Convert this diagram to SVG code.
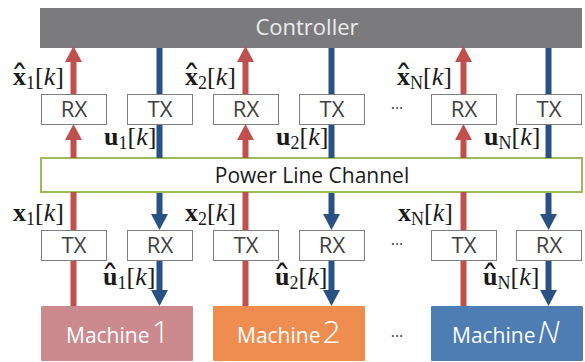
<svg xmlns="http://www.w3.org/2000/svg" width="585" height="362" viewBox="0 0 585 362">
<style>
.box{fill:#fff;stroke:#7f7f7f;stroke-width:1}
.bt{font-family:"Open Sans",sans-serif;font-size:22px;fill:#404040;text-anchor:middle}
.red{stroke:#c0504d;stroke-width:6;fill:none}
.blue{stroke:#2a5183;stroke-width:6;fill:none}
.m{font-family:"Liberation Serif",serif;font-size:26px;fill:#1a1a1a}
.b{font-weight:bold}
.s{font-size:18px}
.i{font-style:italic}
.hat{font-family:"DejaVu Serif",serif;font-size:36px;font-weight:normal}
.mt{font-family:"Open Sans",sans-serif;font-size:21px;fill:#fff}
.dg{font-size:32px;font-weight:300}
.dots{font-family:"Open Sans",sans-serif;font-size:16px;fill:#404040;text-anchor:middle}
</style>
<defs>
<marker id="ar" markerUnits="userSpaceOnUse" markerWidth="16" markerHeight="18" refX="1" refY="8" orient="auto" viewBox="0 0 15 16">
<path d="M0,0 L15,8 L0,16 z" fill="#c0504d"/>
</marker>
<marker id="ab" markerUnits="userSpaceOnUse" markerWidth="16" markerHeight="18" refX="1" refY="8" orient="auto" viewBox="0 0 15 16">
<path d="M0,0 L15,8 L0,16 z" fill="#2a5183"/>
</marker>
</defs>

<g id="controller">
<rect x="40" y="8" width="542" height="40" fill="#7b7b7d"/>
<text x="307" y="35" text-anchor="middle" font-family="Open Sans, sans-serif" font-size="22" fill="#ececec">Controller</text>
</g>

<g id="channel">
<rect x="41" y="158" width="541" height="34" fill="#fff" stroke="#9bbb59" stroke-width="2"/>
<text x="312" y="183" text-anchor="middle" font-family="Open Sans, sans-serif" font-size="21" fill="#1a1a1a">Power Line Channel</text>
</g>

<g id="connectors">
<line class="red" x1="73.5" y1="158" x2="73.5" y2="139" marker-end="url(#ar)"/>
<line class="red" x1="73.5" y1="94" x2="73.5" y2="61" marker-end="url(#ar)"/>
<line class="red" x1="73.5" y1="306" x2="73.5" y2="260"/>
<line class="red" x1="73.5" y1="230" x2="73.5" y2="192"/>
<line class="red" x1="245.5" y1="158" x2="245.5" y2="139" marker-end="url(#ar)"/>
<line class="red" x1="245.5" y1="94" x2="245.5" y2="61" marker-end="url(#ar)"/>
<line class="red" x1="245.5" y1="306" x2="245.5" y2="260"/>
<line class="red" x1="245.5" y1="230" x2="245.5" y2="192"/>
<line class="red" x1="463.5" y1="158" x2="463.5" y2="139" marker-end="url(#ar)"/>
<line class="red" x1="463.5" y1="94" x2="463.5" y2="61" marker-end="url(#ar)"/>
<line class="red" x1="463.5" y1="306" x2="463.5" y2="260"/>
<line class="red" x1="463.5" y1="230" x2="463.5" y2="192"/>
<line class="blue" x1="159.5" y1="48" x2="159.5" y2="94"/>
<line class="blue" x1="159.5" y1="125" x2="159.5" y2="158"/>
<line class="blue" x1="159.5" y1="193" x2="159.5" y2="215" marker-end="url(#ab)"/>
<line class="blue" x1="159.5" y1="260" x2="159.5" y2="291" marker-end="url(#ab)"/>
<line class="blue" x1="331.5" y1="48" x2="331.5" y2="94"/>
<line class="blue" x1="331.5" y1="125" x2="331.5" y2="158"/>
<line class="blue" x1="331.5" y1="193" x2="331.5" y2="215" marker-end="url(#ab)"/>
<line class="blue" x1="331.5" y1="260" x2="331.5" y2="291" marker-end="url(#ab)"/>
<line class="blue" x1="548.5" y1="48" x2="548.5" y2="94"/>
<line class="blue" x1="548.5" y1="125" x2="548.5" y2="158"/>
<line class="blue" x1="548.5" y1="193" x2="548.5" y2="215" marker-end="url(#ab)"/>
<line class="blue" x1="548.5" y1="260" x2="548.5" y2="291" marker-end="url(#ab)"/>
</g>

<g id="rx1-top"><rect class="box" x="41.5" y="94.5" width="65" height="30"/><text class="bt" x="74" y="117">RX</text></g>
<g id="tx1-top"><rect class="box" x="127.5" y="94.5" width="65" height="30"/><text class="bt" x="160" y="117">TX</text></g>
<g id="rx2-top"><rect class="box" x="213.5" y="94.5" width="65" height="30"/><text class="bt" x="246" y="117">RX</text></g>
<g id="tx2-top"><rect class="box" x="299.5" y="94.5" width="65" height="30"/><text class="bt" x="332" y="117">TX</text></g>
<g id="rxN-top"><rect class="box" x="431.5" y="94.5" width="65" height="30"/><text class="bt" x="464" y="117">RX</text></g>
<g id="txN-top"><rect class="box" x="516.5" y="94.5" width="65" height="30"/><text class="bt" x="549" y="117">TX</text></g>

<g id="tx1-bot"><rect class="box" x="41.5" y="230.5" width="65" height="30"/><text class="bt" x="74" y="253">TX</text></g>
<g id="rx1-bot"><rect class="box" x="127.5" y="230.5" width="65" height="30"/><text class="bt" x="160" y="253">RX</text></g>
<g id="tx2-bot"><rect class="box" x="213.5" y="230.5" width="65" height="30"/><text class="bt" x="246" y="253">TX</text></g>
<g id="rx2-bot"><rect class="box" x="299.5" y="230.5" width="65" height="30"/><text class="bt" x="332" y="253">RX</text></g>
<g id="txN-bot"><rect class="box" x="431.5" y="230.5" width="65" height="30"/><text class="bt" x="464" y="253">TX</text></g>
<g id="rxN-bot"><rect class="box" x="516.5" y="230.5" width="65" height="30"/><text class="bt" x="549" y="253">RX</text></g>

<g id="machine1"><rect x="41" y="306" width="152" height="55" rx="1" fill="#cd8a8e"/><text class="mt" x="66" y="343">Machine<tspan class="dg" dx="2">1</tspan></text></g>
<g id="machine2"><rect x="213" y="306" width="152" height="55" rx="1" fill="#ef8d50"/><text class="mt" x="237" y="343">Machine<tspan class="dg" dx="2">2</tspan></text></g>
<g id="machineN"><rect x="431" y="306" width="152" height="55" rx="1" fill="#4e7db3"/><text class="mt" x="452" y="343">Machine<tspan class="dg" dx="2" font-style="italic">N</tspan></text></g>

<g id="dots">
<text class="dots" x="397" y="114">···</text>
<text class="dots" x="397" y="250">···</text>
<text class="dots" x="397" y="342">···</text>
</g>

<g id="labels">
<text class="m" x="13" y="85"><tspan class="b">x</tspan><tspan class="s" dy="4">1</tspan><tspan dy="-4">[</tspan><tspan class="i">k</tspan>]<tspan class="hat" x="10.5" y="91">ˆ</tspan></text>
<text class="m" x="185" y="85"><tspan class="b">x</tspan><tspan class="s" dy="4">2</tspan><tspan dy="-4">[</tspan><tspan class="i">k</tspan>]<tspan class="hat" x="182.5" y="91">ˆ</tspan></text>
<text class="m" x="397" y="85"><tspan class="b">x</tspan><tspan class="s" dy="4">N</tspan><tspan dy="-4">[</tspan><tspan class="i">k</tspan>]<tspan class="hat" x="394.5" y="91">ˆ</tspan></text>

<text class="m" x="104" y="145"><tspan class="b">u</tspan><tspan class="s" dy="4">1</tspan><tspan dy="-4">[</tspan><tspan class="i">k</tspan>]</text>
<text class="m" x="276" y="145"><tspan class="b">u</tspan><tspan class="s" dy="4">2</tspan><tspan dy="-4">[</tspan><tspan class="i">k</tspan>]</text>
<text class="m" x="484" y="145"><tspan class="b">u</tspan><tspan class="s" dy="4">N</tspan><tspan dy="-4">[</tspan><tspan class="i">k</tspan>]</text>

<text class="m" x="13" y="221"><tspan class="b">x</tspan><tspan class="s" dy="4">1</tspan><tspan dy="-4">[</tspan><tspan class="i">k</tspan>]</text>
<text class="m" x="185" y="221"><tspan class="b">x</tspan><tspan class="s" dy="4">2</tspan><tspan dy="-4">[</tspan><tspan class="i">k</tspan>]</text>
<text class="m" x="398" y="221"><tspan class="b">x</tspan><tspan class="s" dy="4">N</tspan><tspan dy="-4">[</tspan><tspan class="i">k</tspan>]</text>

<text class="m" x="103" y="285"><tspan class="b">u</tspan><tspan class="s" dy="4">1</tspan><tspan dy="-4">[</tspan><tspan class="i">k</tspan>]<tspan class="hat" x="101" y="291">ˆ</tspan></text>
<text class="m" x="275" y="285"><tspan class="b">u</tspan><tspan class="s" dy="4">2</tspan><tspan dy="-4">[</tspan><tspan class="i">k</tspan>]<tspan class="hat" x="273" y="291">ˆ</tspan></text>
<text class="m" x="483" y="285"><tspan class="b">u</tspan><tspan class="s" dy="4">N</tspan><tspan dy="-4">[</tspan><tspan class="i">k</tspan>]<tspan class="hat" x="481" y="291">ˆ</tspan></text>
</g>
</svg>
